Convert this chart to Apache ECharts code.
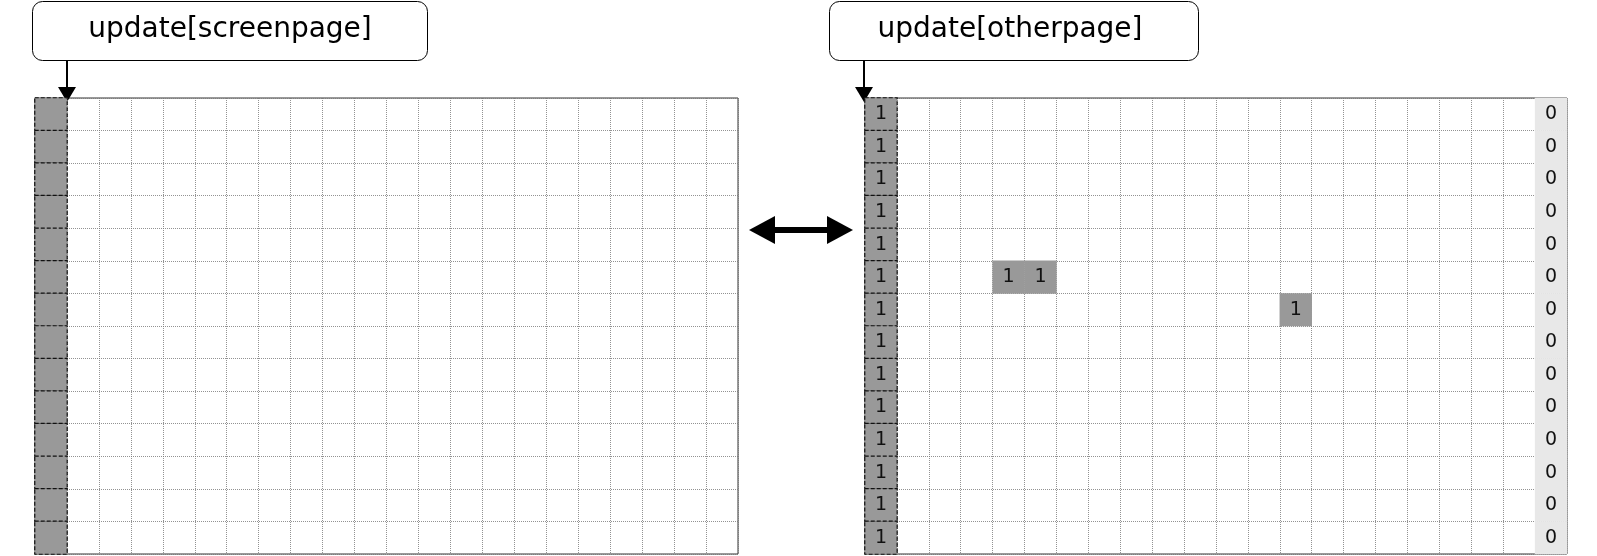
<!DOCTYPE html>
<html>
<head>
<meta charset="utf-8">
<script src="https://cdn.jsdelivr.net/npm/echarts@6/dist/echarts.min.js"></script>
<style>html,body{margin:0;padding:0;background:#fff}#main{width:1597px;height:556px}</style>
</head>
<body>
<div id="main"></div>
<script>
// page grid: 22 columns x 14 rows
var colNames = [];
for (var i = 0; i < 22; i++) colNames.push('c' + i);
var rowNames = [];
for (var j = 0; j < 14; j++) rowNames.push('r' + j);

// screenpage: first column marked (no label)
var screenMarked = [0,0,0,0,0,0,0,0,0,0,0,0,0,0]; // column index per row
// otherpage: first column = 1, last column = 0, plus a few set cells
var otherFirst = [1,1,1,1,1,1,1,1,1,1,1,1,1,1];
var otherLast  = [0,0,0,0,0,0,0,0,0,0,0,0,0,0];
var otherSet = [[4,5,1],[5,5,1],[13,6,1]];

var dark = '#999999', light = '#e8e8e8';

var screenData = screenMarked.map(function (c, r) {
    return { value: [c, r, ''], itemStyle: { color: dark, borderColor: '#111', borderType: [4, 2], borderWidth: 1.2 } };
});
var otherData = [];
otherFirst.forEach(function (v, r) {
    otherData.push({ value: [0, r, v], itemStyle: { color: dark, borderColor: '#111', borderType: [4, 2], borderWidth: 1.2 } });
});
otherLast.forEach(function (v, r) {
    otherData.push({ value: [21, r, v], itemStyle: { color: light } });
});
otherSet.forEach(function (d) {
    otherData.push({ value: d, itemStyle: { color: dark } });
});

function xAx(idx) {
    return {
        type: 'category', gridIndex: idx, data: colNames, show: true,
        axisLine: { show: false }, axisTick: { show: false }, axisLabel: { show: false },
        splitLine: { show: true, lineStyle: { color: '#777', type: [1, 1], width: 0.8 } }
    };
}
function yAx(idx) {
    return {
        type: 'category', gridIndex: idx, data: rowNames, inverse: true,
        axisLine: { show: false }, axisTick: { show: false }, axisLabel: { show: false },
        splitLine: { show: true, lineStyle: { color: '#777', type: [1, 1], width: 0.8 } }
    };
}

var label = { show: true, color: '#111', fontSize: 19, fontFamily: 'DejaVu Sans', formatter: function (p) { return p.value[2]; } };

var chart = echarts.init(document.getElementById('main'));
chart.setOption({
    animation: false,
    grid: [
        { left: 35, top: 98, width: 703, height: 456, show: true, borderColor: '#333', borderWidth: 1 },
        { left: 865, top: 98, width: 702, height: 456, show: true, borderColor: '#333', borderWidth: 1 }
    ],
    xAxis: [xAx(0), xAx(1)],
    yAxis: [yAx(0), yAx(1)],
    series: [
        { type: 'heatmap', xAxisIndex: 0, yAxisIndex: 0, data: screenData, label: { show: false } },
        { type: 'heatmap', xAxisIndex: 1, yAxisIndex: 1, data: otherData, label: label }
    ],
    graphic: [
        { type: 'rect', shape: { x: 32.5, y: 1.5, width: 395, height: 59, r: 10 }, style: { fill: '#fff', stroke: '#000', lineWidth: 1 } },
        { type: 'text', x: 230, y: 30, style: { text: 'update[screenpage]', font: '28px "DejaVu Sans"', fill: '#000', align: 'center', verticalAlign: 'middle' } },
        { type: 'rect', shape: { x: 829.5, y: 1.5, width: 369, height: 59, r: 10 }, style: { fill: '#fff', stroke: '#000', lineWidth: 1 } },
        { type: 'text', x: 1010, y: 30, style: { text: 'update[otherpage]', font: '28px "DejaVu Sans"', fill: '#000', align: 'center', verticalAlign: 'middle' } },
        { type: 'line', shape: { x1: 67, y1: 60, x2: 67, y2: 88 }, style: { stroke: '#000', lineWidth: 2 } },
        { type: 'polygon', shape: { points: [[58, 87], [76, 87], [67, 102]] }, style: { fill: '#000' } },
        { type: 'line', shape: { x1: 864, y1: 60, x2: 864, y2: 88 }, style: { stroke: '#000', lineWidth: 2 } },
        { type: 'polygon', shape: { points: [[855, 87], [873, 87], [864, 102]] }, style: { fill: '#000' } },
        { type: 'line', shape: { x1: 770, y1: 230, x2: 832, y2: 230 }, style: { stroke: '#000', lineWidth: 6 } },
        { type: 'polygon', shape: { points: [[749, 230], [775, 216], [775, 244]] }, style: { fill: '#000' } },
        { type: 'polygon', shape: { points: [[853, 230], [827, 216], [827, 244]] }, style: { fill: '#000' } }
    ]
});
</script>
</body>
</html>
